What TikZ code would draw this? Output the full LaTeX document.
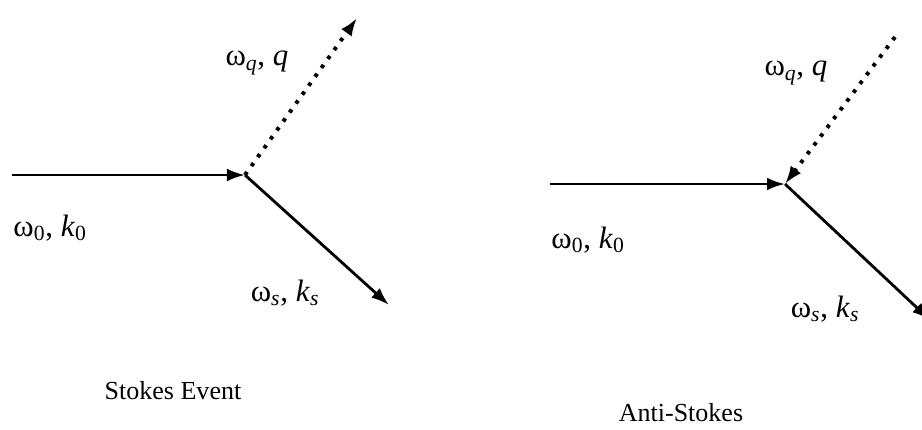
\documentclass[tikz,border=0pt]{standalone}
\usepackage{fontspec}
\setmainfont{Liberation Serif}
\usetikzlibrary{arrows.meta}

\begin{document}
\begin{tikzpicture}[x=0.025cm, y=-0.025cm,
  beam/.style={line width=2pt, -{Latex[length=4.5mm, width=3.2mm]}},
  phonon/.style={line width=2.8pt, dash pattern=on 2.6pt off 5.2pt, -{Latex[length=4.5mm, width=3.2mm]}},
  lbl/.style={font=\fontsize{22}{25}\selectfont, inner sep=0pt},
  caption/.style={font=\fontsize{18.5}{22}\selectfont, inner sep=0pt}]
  \useasboundingbox (0,0) rectangle (922,429);

  % Stokes event
  \coordinate (s0) at (12,175);
  \coordinate (sv) at (245,175);
  \coordinate (sq) at (357,18);
  \coordinate (ss) at (389,305);
  \draw[beam] (s0) -- (sv);
  \draw[phonon] (sv) -- (sq);
  \draw[beam] (sv) -- (ss);
  \node[lbl] (sqlbl) at (257,63) {ω\textsubscript{\textit{q}}, \textit{q}};
  \node[lbl] (s0lbl) at (50,228) {ω\textsubscript{0}, \textit{k}\textsubscript{0}};
  \node[lbl] (sslbl) at (285,293) {ω\textsubscript{\textit{s}}, \textit{k}\textsubscript{\textit{s}}};
  \node[caption] (stokes) at (173,391) {Stokes Event};

  % Anti-Stokes event
  \coordinate (a0) at (550,184);
  \coordinate (av) at (785,184);
  \coordinate (aq) at (895,37);
  \coordinate (as) at (930,320);
  \draw[beam] (a0) -- (av);
  \draw[phonon] (aq) -- (av);
  \draw[beam] (av) -- (as);
  \node[lbl] (aqlbl) at (796,73) {ω\textsubscript{\textit{q}}, \textit{q}};
  \node[lbl] (a0lbl) at (588,240) {ω\textsubscript{0}, \textit{k}\textsubscript{0}};
  \node[lbl] (aslbl) at (825,309) {ω\textsubscript{\textit{s}}, \textit{k}\textsubscript{\textit{s}}};
  \node[caption] (antistokes) at (681,413) {Anti-Stokes};
\end{tikzpicture}
\end{document}
